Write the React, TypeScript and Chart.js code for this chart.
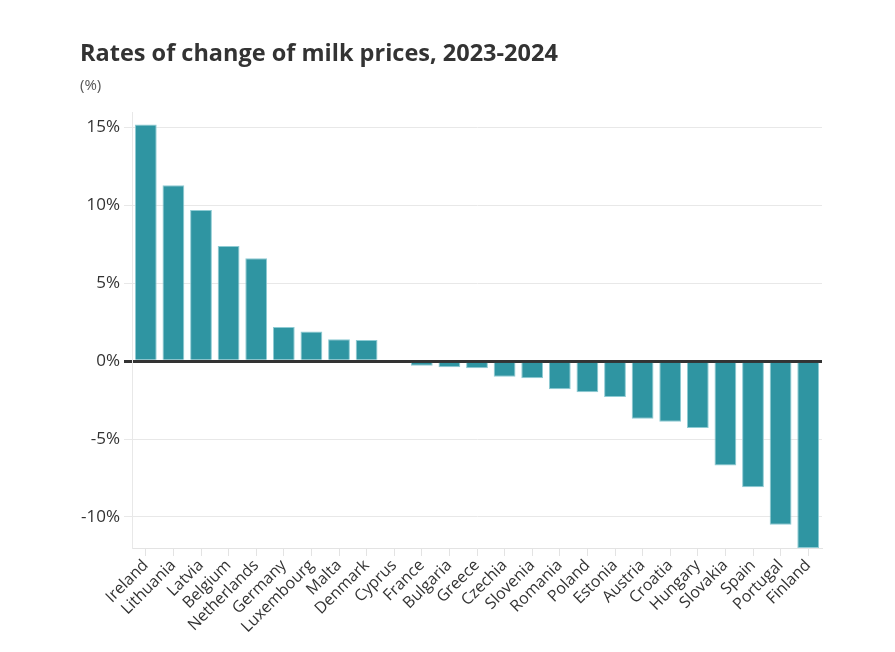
import React, { useEffect, useRef } from "react";
import { Chart, registerables } from "chart.js";

Chart.register(...registerables);

const countries = [
  "Ireland", "Lithuania", "Latvia", "Belgium", "Netherlands", "Germany", "Luxembourg",
  "Malta", "Denmark", "Cyprus", "France", "Bulgaria", "Greece", "Czechia", "Slovenia",
  "Romania", "Poland", "Estonia", "Austria", "Croatia", "Hungary", "Slovakia", "Spain",
  "Portugal", "Finland",
];
const changes = [
  15.2, 11.3, 9.7, 7.4, 6.6, 2.2, 1.9, 1.4, 1.35, 0, -0.3, -0.4, -0.45, -1.0, -1.1,
  -1.8, -2.0, -2.3, -3.7, -3.9, -4.3, -6.7, -8.1, -10.5, -12.0,
];
const yTicks = [-10, -5, 0, 5, 10, 15];
const yMin = -12;
const yMax = 16;

const FONT = "'Open Sans', sans-serif";

export default function App() {
  const ref = useRef<HTMLCanvasElement | null>(null);
  useEffect(() => {
    document.body.style.margin = "0";
    const chart = new Chart(ref.current as HTMLCanvasElement, {
      type: "bar",
      data: {
        labels: countries,
        datasets: [
          {
            data: changes,
            backgroundColor: "#2f95a2",
            borderColor: "#8ecbd3",
            borderWidth: 1,
            barPercentage: 0.79,
            categoryPercentage: 1,
          },
        ],
      },
      options: {
        animation: false,
        responsive: false,
        maintainAspectRatio: false,
        layout: { padding: { left: 80, right: 73, top: 112, bottom: 0 } },
        plugins: { legend: { display: false }, tooltip: { enabled: false } },
        scales: {
          x: {
            grid: {
              offset: false,
              drawOnChartArea: false,
              drawTicks: true,
              tickLength: 8,
              color: "#e3e3e3",
            },
            border: { display: true, color: "#e3e3e3" },
            ticks: {
              font: { family: FONT, size: 16 },
              color: "#333",
              maxRotation: 45,
              minRotation: 45,
              autoSkip: false,
              padding: 0,
            },
            afterFit: (s: any) => {
              s.height = 104;
            },
          },
          y: {
            min: yMin,
            max: yMax,
            ticks: {
              font: { family: FONT, size: 17 },
              color: "#333",
              padding: 4,
              callback: (v: any) => `${v}%`,
            },
            afterBuildTicks: (s: any) => {
              s.ticks = yTicks.map((v) => ({ value: v }));
            },
            afterFit: (s: any) => {
              s.width = 52;
            },
            grid: {
              color: (c: any) => (c.tick && c.tick.value === 0 ? "#333" : "#e8e8e8"),
              lineWidth: (c: any) => (c.tick && c.tick.value === 0 ? 3 : 1),
              tickLength: 8,
            },
            border: { display: true, color: "#e8e8e8" },
          },
        },
      },
    });
    return () => chart.destroy();
  }, []);
  return (
    <div style={{ position: "fixed", left: 0, top: 0, width: 895, height: 652, background: "#fff" }}>
      <div
        style={{
          position: "absolute",
          left: 80,
          top: 36,
          fontFamily: FONT,
          fontWeight: 700,
          fontSize: 23.5,
          lineHeight: "32px",
          color: "#333",
          whiteSpace: "nowrap",
        }}
      >
        Rates of change of milk prices, 2023-2024
      </div>
      <div
        style={{
          position: "absolute",
          left: 80,
          top: 74,
          fontFamily: FONT,
          fontSize: 15,
          lineHeight: "20px",
          color: "#555",
        }}
      >
        (%)
      </div>
      <canvas ref={ref} width={895} height={652} style={{ display: "block" }} />
    </div>
  );
}
